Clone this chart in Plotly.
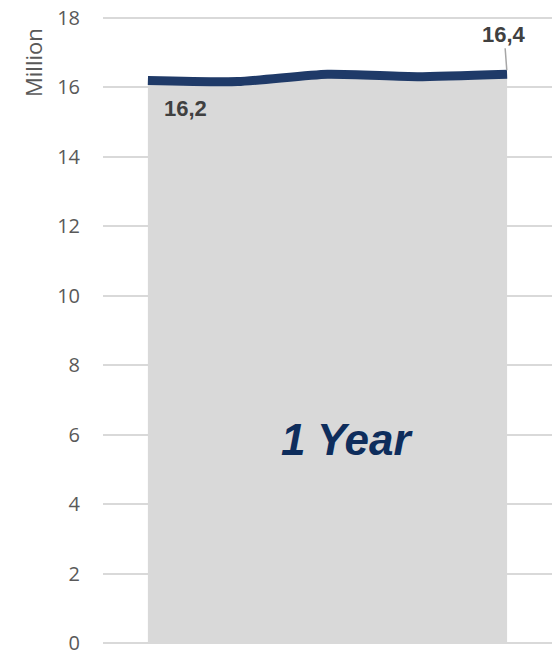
import plotly.graph_objects as go

categories = ["P1", "P2", "P3", "P4", "P5"]
values = [16.2, 16.17, 16.38, 16.31, 16.38]
tick_vals = [0, 2, 4, 6, 8, 10, 12, 14, 16, 18]
first_label = "16,2"
last_label = "16,4"
area_text = "1 Year"
axis_title = "Million"

fig = go.Figure()
fig.add_trace(go.Scatter(
    x=list(range(len(categories))), y=values,
    mode="lines",
    line=dict(color="#1F3A68", width=9, shape="spline", smoothing=0.6),
    fill="tozeroy", fillcolor="#D9D9D9",
    hoverinfo="skip", showlegend=False,
))

fig.update_layout(
    width=554, height=655,
    margin=dict(l=103, r=2, t=17, b=12),
    paper_bgcolor="white", plot_bgcolor="white",
    xaxis=dict(range=[-0.5, len(categories) - 0.5], showgrid=False,
               showticklabels=False, zeroline=False, showline=False),
    yaxis=dict(range=[0, 18.03], tickvals=tick_vals,
               ticktext=[str(v) for v in tick_vals],
               showgrid=True, gridcolor="#D9D9D9", gridwidth=2,
               zeroline=True, zerolinecolor="#D9D9D9", zerolinewidth=2,
               ticks="", ticklabelstandoff=22, automargin=False,
               ticklabeloverflow="allow",
               tickfont=dict(family="Open Sans", size=20, color="#595959")),
    annotations=[
        dict(x=0, y=values[0], xref="x", yref="y", text="<b>" + first_label + "</b>",
             showarrow=False, xshift=38, yshift=-28,
             font=dict(family="Liberation Sans", size=22, color="#404040")),
        dict(x=len(values) - 1, y=values[-1], xref="x", yref="y",
             text="<b>" + last_label + "</b>",
             showarrow=True, arrowhead=0, arrowwidth=1.5, arrowcolor="#A6A6A6",
             ax=-3, ay=-40, standoff=4,
             font=dict(family="Liberation Sans", size=22, color="#404040")),
        dict(x=2.22, y=5.85, xref="x", yref="y",
             text="<b><i>" + area_text + "</i></b>", showarrow=False,
             font=dict(family="Liberation Sans", size=44, color="#0E2D5C")),
        dict(x=0, y=1, xref="paper", yref="paper", text=axis_title,
             xanchor="center", yanchor="middle",
             textangle=-90, showarrow=False, xshift=-70, yshift=-46,
             font=dict(family="Open Sans", size=22, color="#595959")),
    ],
)

fig.write_html("out.html", config={"displayModeBar": False},
               post_script="document.body.style.margin='0';")
